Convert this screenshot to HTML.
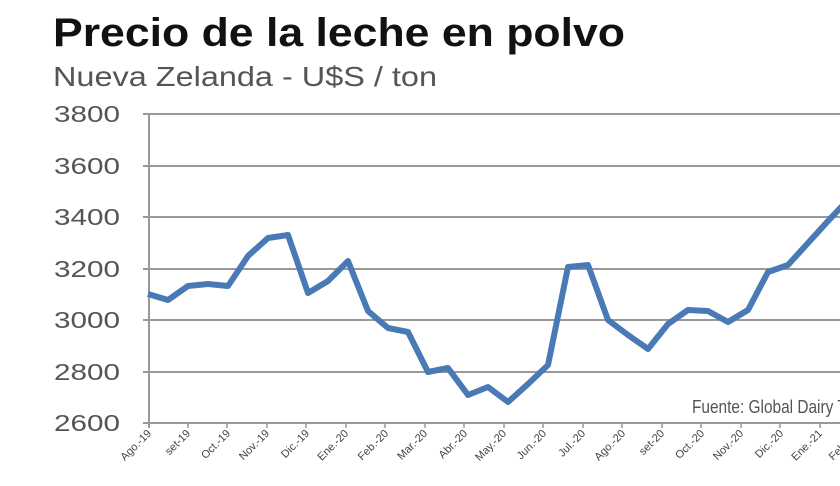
<!DOCTYPE html>
<html><head><meta charset="utf-8"><style>
body{margin:0;background:#fff;width:840px;height:481px;overflow:hidden;font-family:"Liberation Sans",sans-serif}
</style></head><body>
<svg width="840" height="481" xmlns="http://www.w3.org/2000/svg">
<text x="53" y="46" font-family="Liberation Sans" font-weight="bold" font-size="40" fill="#111" textLength="572" lengthAdjust="spacingAndGlyphs">Precio de la leche en polvo</text>
<text x="53" y="86" font-family="Liberation Sans" font-size="28" fill="#555" textLength="384" lengthAdjust="spacingAndGlyphs">Nueva Zelanda - U$S / ton</text>
<g stroke="#999" stroke-width="2">
<line x1="143" y1="114" x2="840" y2="114"/>
<line x1="143" y1="166" x2="840" y2="166"/>
<line x1="143" y1="217" x2="840" y2="217"/>
<line x1="143" y1="269" x2="840" y2="269"/>
<line x1="143" y1="320" x2="840" y2="320"/>
<line x1="143" y1="372" x2="840" y2="372"/>
<line x1="143" y1="423" x2="840" y2="423"/>
<line x1="149" y1="114" x2="149" y2="428"/>
</g>
<g stroke="#999" stroke-width="1.5">
<line x1="188" y1="423" x2="188" y2="428"/><line x1="227" y1="423" x2="227" y2="428"/><line x1="267" y1="423" x2="267" y2="428"/><line x1="306" y1="423" x2="306" y2="428"/><line x1="346" y1="423" x2="346" y2="428"/><line x1="385" y1="423" x2="385" y2="428"/><line x1="425" y1="423" x2="425" y2="428"/><line x1="464" y1="423" x2="464" y2="428"/><line x1="504" y1="423" x2="504" y2="428"/><line x1="543" y1="423" x2="543" y2="428"/><line x1="583" y1="423" x2="583" y2="428"/><line x1="622" y1="423" x2="622" y2="428"/><line x1="662" y1="423" x2="662" y2="428"/><line x1="701" y1="423" x2="701" y2="428"/><line x1="741" y1="423" x2="741" y2="428"/><line x1="780" y1="423" x2="780" y2="428"/><line x1="820" y1="423" x2="820" y2="428"/>
</g>
<g font-family="Liberation Sans" font-size="23" fill="#555" text-anchor="end">
<text x="120" y="122" textLength="66" lengthAdjust="spacingAndGlyphs">3800</text><text x="120" y="174" textLength="66" lengthAdjust="spacingAndGlyphs">3600</text><text x="120" y="225" textLength="66" lengthAdjust="spacingAndGlyphs">3400</text><text x="120" y="277" textLength="66" lengthAdjust="spacingAndGlyphs">3200</text><text x="120" y="328" textLength="66" lengthAdjust="spacingAndGlyphs">3000</text><text x="120" y="380" textLength="66" lengthAdjust="spacingAndGlyphs">2800</text><text x="120" y="431" textLength="66" lengthAdjust="spacingAndGlyphs">2600</text>
</g>
<g font-family="Liberation Sans" font-size="11" fill="#444" text-anchor="end">
<text transform="translate(152,434) rotate(-45)">Ago.-19</text>
<text transform="translate(191,434) rotate(-45)">set-19</text>
<text transform="translate(231,434) rotate(-45)">Oct.-19</text>
<text transform="translate(270,434) rotate(-45)">Nov.-19</text>
<text transform="translate(310,434) rotate(-45)">Dic.-19</text>
<text transform="translate(349,434) rotate(-45)">Ene.-20</text>
<text transform="translate(389,434) rotate(-45)">Feb.-20</text>
<text transform="translate(428,434) rotate(-45)">Mar.-20</text>
<text transform="translate(468,434) rotate(-45)">Abr.-20</text>
<text transform="translate(507,434) rotate(-45)">May.-20</text>
<text transform="translate(547,434) rotate(-45)">Jun.-20</text>
<text transform="translate(586,434) rotate(-45)">Jul.-20</text>
<text transform="translate(626,434) rotate(-45)">Ago.-20</text>
<text transform="translate(665,434) rotate(-45)">set-20</text>
<text transform="translate(705,434) rotate(-45)">Oct.-20</text>
<text transform="translate(744,434) rotate(-45)">Nov.-20</text>
<text transform="translate(784,434) rotate(-45)">Dic.-20</text>
<text transform="translate(823,434) rotate(-45)">Ene.-21</text>
<text transform="translate(860,434) rotate(-45)">Feb.-21</text>
</g>
<text x="692" y="413" font-family="Liberation Sans" font-size="18" fill="#555" textLength="185" lengthAdjust="spacingAndGlyphs">Fuente:  Global Dairy Trade</text>
<polyline fill="none" stroke="#4a7ab5" stroke-width="6" stroke-linejoin="round" points="148,294 168,300 188,286 208,284 228,286 248,256 268,238 288,235 308,293 328,281 348,261 368,311 388,328 408,332 428,372 448,368 468,395 488,387 508,402 528,384 548,365 568,267 588,265 608,320 628,335 648,349 668,324 688,310 708,311 728,322 748,310 768,272 788,265 808,243 828,221 848,200"/>
</svg>
</body></html>
